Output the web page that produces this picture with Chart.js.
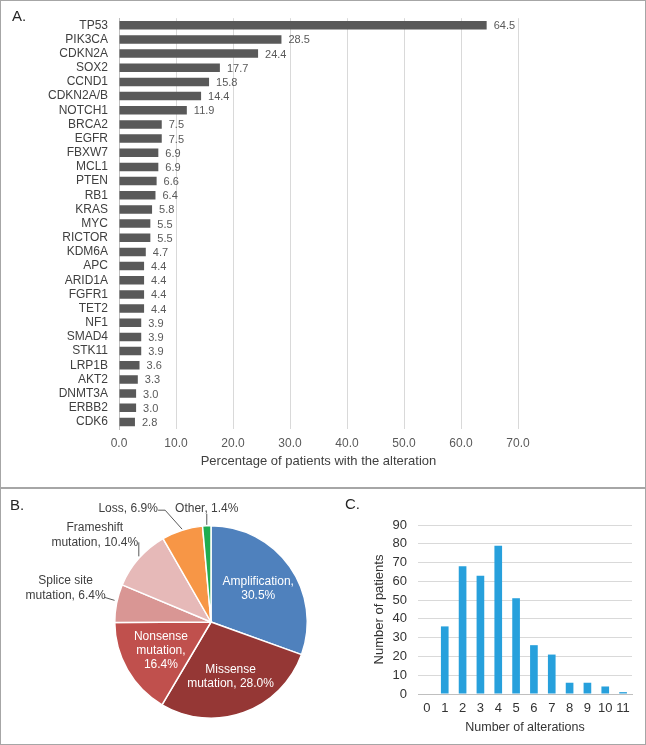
<!DOCTYPE html>
<html>
<head>
<meta charset="utf-8">
<script src="https://cdn.jsdelivr.net/npm/chart.js@4.4.1/dist/chart.umd.min.js"></script>
<style>
  body { margin: 0; background: #fff; font-family: "Liberation Sans", Arial, sans-serif; }
  #wrap { position: relative; width: 646px; height: 745px; }
  .box { position: absolute; border: 1.5px solid #a6a6a6; box-sizing: border-box; }
  .letter { position: absolute; font-size: 15px; color: #262626; }
  canvas { position: absolute; }
</style>
</head>
<body>
<div id="wrap">
  <div class="box" style="left:0;top:0;width:646px;height:489px"></div>
  <div class="box" style="left:0;top:487px;width:646px;height:258px"></div>
  <canvas id="chartA" style="left:0;top:0"></canvas>
  <canvas id="chartB" style="left:0;top:488px"></canvas>
  <canvas id="chartC" style="left:331px;top:488px"></canvas>
  <div class="letter" style="left:12px;top:7px">A.</div>
  <div class="letter" style="left:10px;top:496px">B.</div>
  <div class="letter" style="left:345px;top:495px">C.</div>
</div>
<script>
// panel A: genes
const genes = ["TP53", "PIK3CA", "CDKN2A", "SOX2", "CCND1", "CDKN2A/B", "NOTCH1", "BRCA2", "EGFR", "FBXW7",
  "MCL1", "PTEN", "RB1", "KRAS", "MYC", "RICTOR", "KDM6A", "APC", "ARID1A", "FGFR1", "TET2",
  "NF1", "SMAD4", "STK11", "LRP1B", "AKT2", "DNMT3A", "ERBB2", "CDK6"];
const genePct = [64.5, 28.5, 24.4, 17.7, 15.8, 14.4, 11.9, 7.5, 7.5, 6.9, 6.9, 6.6, 6.4, 5.8, 5.5, 5.5, 4.7,
  4.4, 4.4, 4.4, 4.4, 3.9, 3.9, 3.9, 3.6, 3.3, 3.0, 3.0, 2.8];

// panel B: alteration types
const altTypes = ["Amplification", "Missense mutation", "Nonsense mutation", "Splice site mutation",
  "Frameshift mutation", "Loss", "Other"];
const altPct = [30.5, 28.0, 16.4, 6.4, 10.4, 6.9, 1.4];
const altColors = ["#4f81bd", "#953735", "#c0504d", "#d99694", "#e6b9b8", "#f79646", "#1fad4f"];

// panel C: number of alterations per patient
const altCounts = ["0", "1", "2", "3", "4", "5", "6", "7", "8", "9", "10", "11"];
const patients = [0, 36, 68, 63, 79, 51, 26, 21, 6, 6, 4, 1];

const FONT = "'Liberation Sans', Arial, sans-serif";
Chart.defaults.font.family = FONT;
Chart.defaults.animation = false;

function sizeCanvas(id, w, h) {
  const c = document.getElementById(id);
  c.width = w; c.height = h;
  c.style.width = w + 'px'; c.style.height = h + 'px';
  return c;
}

// value labels at the end of each bar
const barValues = {
  id: 'barValues',
  afterDatasetsDraw(chart) {
    const ctx = chart.ctx;
    const meta = chart.getDatasetMeta(0);
    ctx.save();
    ctx.font = "11px " + FONT;
    ctx.fillStyle = "#595959";
    ctx.textAlign = "left";
    ctx.textBaseline = "middle";
    meta.data.forEach((bar, i) => {
      ctx.fillText(genePct[i].toFixed(1), bar.x + 7, bar.y + 1);
    });
    ctx.restore();
  }
};

new Chart(sizeCanvas('chartA', 646, 488), {
  type: 'bar',
  data: {
    labels: genes,
    datasets: [{ data: genePct, backgroundColor: "#595959", barPercentage: 0.6, categoryPercentage: 1 }]
  },
  options: {
    indexAxis: 'y',
    responsive: false,
    layout: { padding: { top: 8, right: 128, left: 0, bottom: 0 } },
    plugins: { legend: { display: false }, tooltip: { enabled: false } },
    scales: {
      x: {
        min: 0, max: 70,
        ticks: { stepSize: 10, color: "#595959", font: { size: 12 }, padding: 7,
          callback: v => v.toFixed(1) },
        grid: { color: "#d9d9d9", drawTicks: false },
        border: { display: false },
        title: { display: true, text: "Percentage of patients with the alteration", color: "#404040",
          font: { size: 13 }, padding: { top: 0, bottom: 19 } },
        afterFit: s => { s.height = 59; }
      },
      y: {
        ticks: { color: "#404040", font: { size: 12 }, padding: 11, autoSkip: false },
        grid: { display: false, drawTicks: false },
        border: { display: true, color: "#bfbfbf" },
        afterFit: s => { s.width = 119; }
      }
    }
  },
  plugins: [barValues]
});

// pie labels: inside (white) and outside with leader lines
const pieText = [
  { lines: ["Amplification,", "30.5%"], inside: true },
  { lines: ["Missense", "mutation, 28.0%"], inside: true },
  { lines: ["Nonsense", "mutation,", "16.4%"], inside: true },
  { lines: ["Splice site", "mutation, 6.4%"], dx: -51, dy: -23, lead: [[-2, -3], [-12, -6]] },
  { lines: ["Frameshift", "mutation, 10.4%"], dx: -44, dy: -31, lead: [[0, -2], [0, -16]] },
  { lines: ["Loss, 6.9%"], dx: -54, dy: -21, lead: [[0, -1], [-17, -20], [-24, -20]] },
  { lines: ["Other, 1.4%"], dx: 0, dy: -17, lead: [[0, -1], [0, -12]] }
];

const pieLabels = {
  id: 'pieLabels',
  afterDatasetsDraw(chart) {
    const ctx = chart.ctx;
    const meta = chart.getDatasetMeta(0);
    ctx.save();
    ctx.font = "12px " + FONT;
    ctx.textAlign = "center";
    ctx.textBaseline = "middle";
    meta.data.forEach((arc, i) => {
      const p = arc.getProps(['x', 'y', 'startAngle', 'endAngle', 'outerRadius'], true);
      const mid = (p.startAngle + p.endAngle) / 2;
      const t = pieText[i];
      const lh = 14;
      if (t.inside) {
        const r = p.outerRadius * 0.6;
        const cx = p.x + Math.cos(mid) * r;
        const cy = p.y + Math.sin(mid) * r;
        ctx.fillStyle = "#ffffff";
        const y0 = cy - (t.lines.length - 1) * lh / 2;
        t.lines.forEach((ln, k) => ctx.fillText(ln, cx, y0 + k * lh));
      } else {
        const ex = p.x + Math.cos(mid) * p.outerRadius;
        const ey = p.y + Math.sin(mid) * p.outerRadius;
        ctx.strokeStyle = "#595959";
        ctx.lineWidth = 1;
        ctx.beginPath();
        t.lead.forEach((pt, k) => {
          if (k === 0) ctx.moveTo(ex + pt[0], ey + pt[1]);
          else ctx.lineTo(ex + pt[0], ey + pt[1]);
        });
        ctx.stroke();
        ctx.fillStyle = "#404040";
        t.lines.forEach((ln, k) => ctx.fillText(ln, ex + t.dx, ey + t.dy + k * 15));
      }
    });
    ctx.restore();
  }
};

new Chart(sizeCanvas('chartB', 329, 256), {
  type: 'pie',
  data: {
    labels: altTypes,
    datasets: [{ data: altPct, backgroundColor: altColors, borderColor: "#ffffff", borderWidth: 1.5,
      hoverOffset: 0, offset: 0 }]
  },
  options: {
    responsive: false,
    layout: { padding: { left: 114, top: 37, right: 21, bottom: 25 } },
    plugins: { legend: { display: false }, tooltip: { enabled: false } }
  },
  plugins: [pieLabels]
});

new Chart(sizeCanvas('chartC', 314, 256), {
  type: 'bar',
  data: {
    labels: altCounts,
    datasets: [{ data: patients, backgroundColor: "#27a0dc", barPercentage: 0.43, categoryPercentage: 1 }]
  },
  options: {
    responsive: false,
    layout: { padding: { top: 37, right: 13, left: 0, bottom: 0 } },
    plugins: { legend: { display: false }, tooltip: { enabled: false } },
    scales: {
      x: {
        ticks: { color: "#333333", font: { size: 13 }, padding: 7, autoSkip: false,
          maxRotation: 0, minRotation: 0 },
        grid: { display: false, drawTicks: false },
        border: { display: true, color: "#bfbfbf" },
        title: { display: true, text: "Number of alterations", color: "#333333",
          font: { size: 12.5 }, padding: { top: 0, bottom: 9 } },
        afterFit: s => { s.height = 50; }
      },
      y: {
        min: 0, max: 90,
        ticks: { stepSize: 10, color: "#333333", font: { size: 13 }, padding: 11 },
        grid: { color: "#d9d9d9", drawTicks: false },
        border: { display: false },
        title: { display: true, text: "Number of patients", color: "#333333",
          font: { size: 13 }, padding: { top: 41, bottom: 0 } },
        afterFit: s => { s.width = 87; }
      }
    }
  }
});
</script>
</body>
</html>
